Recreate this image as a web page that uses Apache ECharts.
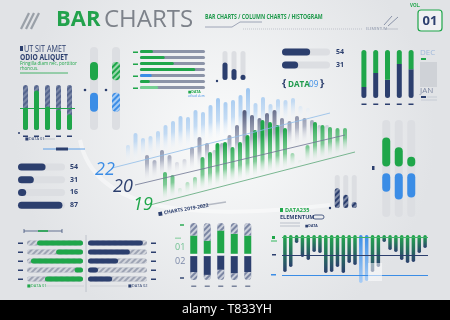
<!DOCTYPE html>
<html><head><meta charset="utf-8">
<script src="https://cdn.jsdelivr.net/npm/echarts@6/dist/echarts.min.js"></script>
<style>html,body{margin:0;padding:0;background:#eceef0}#c{width:450px;height:320px}</style>
</head><body><div id="c"></div>
<script>
// ---------- DATA ----------
const aCats = ['01','02','03','04','05'];
const aTrack = [100,100,100,100,100];
const aGreen = [50,88,52,45,35];
const aRef = [49];

const bCats = ['01','02'];
const bBlueLow = [22,22], bBlueHigh = [45,45];
const bGreenLow = [60,60], bGreenHigh = [82,82];

const cCats = ['1','2','3','4','5','6','7'];
const cVals = [20,38,52,85,18,15,28];

const dCats = ['1','2','3'];
const dVals = [60,38,18];

const eVals = [54,31];
const fVals = [54,31,16,87];

const gCats = ['1','2','3','4','5'];
const gNavy = [23,52,38,71,60];
const gGreen = [77,48,62,29,40];
const gLabels = ['DEC','JAN'];

const hCats = ['1','2','3'];
const hBlueLow = [26,18,20], hBlueHigh = [45,45,45];
const hGreenLow = [52,52,52], hGreenHigh = [82,72,62];

const iCats = ['1','2','3'];
const iVals = [60,40,18];

const jVals = [37,32,8,22,25,17,18,38,37,32,38,28,30,48,46,37,32,7,15,17,25,28,27,18,13];
const jRefs = [2,20,40];

const kCats = ['1','2','3','4','5'];
const kTrack = [100,100,100,100,100];
const kGreen = [82,48,93,15,68];
const kNavy = [93,71,51,17,41];

const lCats = ['1','2','3','4','5'];
const lHatchBottom = [14,9,18,12,14];
const lNavy = [28,33,25,30,28];
const lGap = [4,4,4,4,4];
const lGreen = [32,23,40,35,32];
const lHatchTop = [22,31,13,19,22];

const mBlue  = [65,77,72,74,79,85,89,94,93,100,98,105,112,108,110,115,122,107,113,106,111,110,112,104,102,100];
const mGray  = [55,50,60,55,48,51,63,73,67,60,67,75,85,100,95,92,97,100,92,89,94,92,90,85,85];
const mGreen = [38,35,22,28,33,53,58,67,68,63,68,75,80,90,88,85,82,57,50,65,88,85,83,82,82];
const mYears = ['22','20','19'];

// ---------- STYLE ----------
const GREEN='#1fa64a', NAVY='#2c3f6e', BLUE='#3b8de6', TRACK='#dcdee2', CLEAR='rgba(0,0,0,0)';
const FONT='"Open Sans", "DejaVu Sans", sans-serif';
const G=[],X=[],Y=[],S=[],GR=[];
function grid(l,t,w,h,xa,ya){const i=G.length;G.push({left:l,top:t,width:w,height:h});
  X.push(Object.assign({gridIndex:i,show:false},xa));Y.push(Object.assign({gridIndex:i,show:false},ya));return i;}
function bar(i,data,o){S.push(Object.assign({type:'bar',xAxisIndex:i,yAxisIndex:i,data:data,silent:true,animation:false},o));}
const cat=(d,o)=>Object.assign({type:'category',data:d},o||{});
const val=(max,o)=>Object.assign({type:'value',min:0,max:max},o||{});
const hatch=(c)=>({symbol:'rect',symbolSize:1,dashArrayX:[1,0],dashArrayY:[1.5,2],rotation:-Math.PI/4,color:c});
const dash=(c,m)=>({show:true,axisLine:{show:false},axisTick:{show:false},splitLine:{show:false},
  axisLabel:{formatter:()=> '▬',fontSize:5,color:c,margin:m||2}});
const tick=(c,m)=>({show:true,axisLine:{show:false},axisTick:{show:false},splitLine:{show:false},
  axisLabel:{fontSize:7,fontWeight:'bold',color:c,margin:m||6,fontFamily:FONT}});
function txt(x,y,s,st,ex){GR.push(Object.assign({type:'text',x:x,y:y,z:50,silent:true,
  style:Object.assign({text:s,fill:NAVY,fontSize:6,fontFamily:FONT,verticalAlign:'middle'},st)},ex||{}));}
function ln(x1,y1,x2,y2,c,w,ex){GR.push(Object.assign({type:'line',z:40,silent:true,shape:{x1,y1,x2,y2},style:{stroke:c,lineWidth:w||1}},ex||{}));}
function rc(x,y,w,h,c,r,ex){GR.push(Object.assign({type:'rect',z:1,silent:true,shape:{x,y,width:w,height:h,r:r||0},style:{fill:c}},ex||{}));}
function dot(x,y,r,c){GR.push({type:'circle',z:40,silent:true,shape:{cx:x,cy:y,r:r},style:{fill:c}});}
const vgrad=(a,b)=>({type:'linear',x:0,y:0,x2:0,y2:1,colorStops:[{offset:0,color:a},{offset:1,color:b}]});
function slant(c0,c1,x1,y1,x2,y2,F){const m=(y2-y1)/(x2-x1),n=Math.hypot(m,1),nx=-m/n,ny=1/n;
  return {type:'linear',global:true,x:x1-F*nx,y:y1-F*ny,x2:x1,y2:y1,
    colorStops:[{offset:0,color:c0},{offset:0.6,color:c1},{offset:1,color:'rgba(255,255,255,0)'}]};}

// ---------- BACKGROUND ----------
rc(0,0,450,300,{type:'radial',x:0.5,y:0.45,r:0.7,colorStops:[{offset:0,color:'#fafbfb'},{offset:1,color:'#e1e3e6'}]},0,{z:-100});
GR.push({type:'bezierCurve',z:-50,silent:true,shape:{x1:80,y1:140,x2:330,y2:205,cpx1:95,cpy1:215,cpx2:200,cpy2:220},style:{stroke:'rgba(255,255,255,0.45)',lineWidth:4,fill:null}});
rc(0,300,450,20,'#000',0,{z:60});
txt(182,309,'alamy - T833YH',{fill:'#fff',fontSize:12.5},{z:61});

// ---------- HEADER ----------
[[21,29],[26,29],[31,29]].forEach(p=>ln(p[0],p[1],p[0]+8,p[1]-16,'#9aa0a8',2.2));
txt(56,20,'BAR',{fill:'#22a24c',fontSize:22,fontWeight:'bold'});
txt(104,20,'CHARTS',{fill:'#7d828a',fontSize:24,fontWeight:'normal'});
txt(205,17,'BAR CHARTS / COLUMN CHARTS / HISTOGRAM',{fill:'#1f9a4c',fontSize:7,fontWeight:'bold'},{scaleX:0.74});
GR.push({type:'polyline',z:40,silent:true,shape:{points:[[205,27],[232,27],[240,22],[262,22]]},style:{stroke:'#8a93a8',lineWidth:0.8,fill:null}});
ln(243,29,362,29,'#a4aab6',0.6,{style:{stroke:'#a4aab6',lineWidth:0.6,lineDash:[1,1]}});
txt(366,29,'ELEMENTUM',{fill:'#8a93a8',fontSize:3.5});
ln(385,29,398,29,'#a4aab6',0.6);
ln(384,25,392,16,'#8a93a8',1); ln(388,26,398,17,'#8a93a8',1);
txt(410,6,'VOL.',{fill:GREEN,fontSize:4.5,fontWeight:'bold'});
GR.push({type:'rect',z:40,silent:true,shape:{x:418,y:10,width:24,height:21,r:3},style:{fill:'rgba(255,255,255,0.5)',stroke:GREEN,lineWidth:1.2}});
txt(430,21,'01',{fill:NAVY,fontSize:13,fontWeight:'bold',align:'center'});

// ---------- TOP-LEFT TEXT ----------
rc(20,46,3,5,NAVY,0,{z:40});
txt(24,49,'UT SIT AMET',{fill:NAVY,fontSize:9},{scaleX:0.8});
txt(20,57,'ODIO ALIQUET',{fill:NAVY,fontSize:9,fontWeight:'bold'},{scaleX:0.74});
txt(20,64,'Fringilla diam nec, porttitor',{fill:GREEN,fontSize:4.5});
txt(20,68.5,'rhoncus.',{fill:GREEN,fontSize:4.5});
ln(20,73,68,73,GREEN,0.8);

// ---------- A: five vertical bars ----------
let gi=grid(20,85,55,45,cat(aCats,dash(NAVY,3)),val(100));
bar(gi,aTrack,{barWidth:5,itemStyle:{color:'#56668e',borderRadius:2.5,decal:hatch('rgba(255,255,255,0.22)')}});
bar(gi,aGreen,{barWidth:5,barGap:'-100%',itemStyle:{color:GREEN,borderRadius:2.5},
  markLine:{silent:true,symbol:'none',label:{show:false},lineStyle:{color:GREEN,width:1,type:'solid'},data:aRef.map(v=>({yAxis:v}))}});
dot(19,133,1,NAVY);
txt(25,139,'■DATA 01',{fill:NAVY,fontSize:4});
ln(43,139,55,139,'#aab1c0',0.6);
ln(43,149,85,149,BLUE,0.8); rc(56,147.5,12,3,NAVY,0,{z:41});

// ---------- B: vertical capsules ----------
gi=grid(83,47,44,83,cat(bCats),val(100));
const bH=(v,i,c)=>(i===1?{value:v,itemStyle:{color:c,decal:hatch('rgba(255,255,255,0.55)')}}:v);
bar(gi,bBlueLow,{stack:'b',barWidth:8,itemStyle:{color:CLEAR},showBackground:true,backgroundStyle:{color:TRACK,borderRadius:4}});
bar(gi,bBlueHigh.map((h,i)=>bH(h-bBlueLow[i],i,BLUE)),{stack:'b',barWidth:8,itemStyle:{color:BLUE,borderRadius:4}});
bar(gi,bGreenLow.map((l,i)=>l-bBlueHigh[i]),{stack:'b',barWidth:8,itemStyle:{color:CLEAR}});
bar(gi,bGreenHigh.map((h,i)=>bH(h-bGreenLow[i],i,GREEN)),{stack:'b',barWidth:8,itemStyle:{color:GREEN,borderRadius:4}});
dot(85,90,1.3,NAVY); dot(106,90,1.3,NAVY);

// ---------- C: horizontal bars ----------
gi=grid(140,48.5,65,42,val(100),cat(cCats,Object.assign({inverse:true},dash(GREEN,2))));
bar(gi,cVals.map((v,i)=>i===4?{value:v,itemStyle:{color:BLUE}}:(i===6?{value:v,itemStyle:{color:'#74cf92'}}:v)),
  {barWidth:3,itemStyle:{color:GREEN,borderRadius:1.5},showBackground:true,backgroundStyle:{color:'#8c94a8',borderRadius:1.5}});
txt(188,92,'■DATA',{fill:GREEN,fontSize:3.5,fontWeight:'bold'});
txt(188,96,'ut/sed elem',{fill:BLUE,fontSize:3});

// ---------- D: small vertical bars ----------
gi=grid(220.5,51,27,29,cat(dCats),val(100));
bar(gi,dVals,{barWidth:5,itemStyle:{color:NAVY,borderRadius:2.5},showBackground:true,backgroundStyle:{color:TRACK,borderRadius:2.5}});
dot(217,81,1.2,NAVY);

// ---------- E: top-right horizontal bars ----------
gi=grid(282,45.5,48,26,val(92),cat(eVals.map(String),Object.assign({inverse:true,position:'right'},tick(NAVY,6))));
bar(gi,eVals,{barWidth:7,itemStyle:{color:NAVY,borderRadius:3.5},showBackground:true,backgroundStyle:{color:TRACK,borderRadius:3.5}});

// DATA09
txt(282,84,'{',{fill:NAVY,fontSize:11,fontWeight:'bold'});
txt(288,84,'DATA',{fill:'#1f9a4c',fontSize:9,fontWeight:'bold'},{scaleX:0.9});
txt(309,84,'09',{fill:BLUE,fontSize:9},{scaleX:0.9});
txt(320,84,'}',{fill:NAVY,fontSize:11,fontWeight:'bold'});

// ---------- F: left horizontal bars ----------
gi=grid(18,160.5,47,51,val(92),cat(fVals.map(String),Object.assign({inverse:true,position:'right'},tick(NAVY,5))));
bar(gi,fVals,{barWidth:7,itemStyle:{color:NAVY,borderRadius:3.5},showBackground:true,backgroundStyle:{color:TRACK,borderRadius:3.5}});

// ---------- G: stacked capsules ----------
gi=grid(358,50,59,48,cat(gCats,dash(NAVY,3)),val(100));
bar(gi,gNavy,{stack:'g',barWidth:5,itemStyle:{color:NAVY,borderRadius:[0,0,2.5,2.5]}});
bar(gi,gGreen,{stack:'g',barWidth:5,itemStyle:{color:GREEN,borderRadius:[2.5,2.5,0,0]}});
txt(420,53,gLabels[0],{fill:'#9fb8dc',fontSize:8});
rc(421,58,5,2,GREEN,0,{z:40});
rc(420,62,17,25,'#cfd2d7');
txt(420,91,gLabels[1],{fill:'#7c86a0',fontSize:8});
rc(421,96,5,2,NAVY,0,{z:40}); ln(427,97,437,97,'#aab1c0',0.5); ln(421,100,437,100,'#aab1c0',0.5);

// ---------- H: right capsules ----------
gi=grid(380,120,37.5,97,cat(hCats),val(100));
bar(gi,hBlueLow,{stack:'h',barWidth:8,itemStyle:{color:CLEAR},showBackground:true,backgroundStyle:{color:TRACK,borderRadius:4}});
bar(gi,hBlueHigh.map((h,i)=>h-hBlueLow[i]),{stack:'h',barWidth:8,itemStyle:{color:BLUE,borderRadius:4}});
bar(gi,hGreenLow.map((l,i)=>l-hBlueHigh[i]),{stack:'h',barWidth:8,itemStyle:{color:CLEAR}});
bar(gi,hGreenHigh.map((h,i)=>h-hGreenLow[i]),{stack:'h',barWidth:8,itemStyle:{color:GREEN,borderRadius:4}});
rc(372,166,2.5,4,NAVY,0,{z:40});

// ---------- I: small hatched bars ----------
gi=grid(333,175,25.5,33,cat(iCats),val(100));
bar(gi,iVals,{barWidth:5,itemStyle:{color:NAVY,borderRadius:2.5,decal:hatch('rgba(255,255,255,0.4)')},showBackground:true,backgroundStyle:{color:TRACK,borderRadius:2.5}});
dot(330,208,1.2,NAVY);

// ---------- DATA235 ----------
rc(280,208,3,4,GREEN,0,{z:40});
txt(285,210.5,'DATA235',{fill:GREEN,fontSize:5.5,fontWeight:'bold'});
txt(280,217,'ELEMENTUM',{fill:NAVY,fontSize:5.5,fontWeight:'bold'});
GR.push({type:'rect',z:40,silent:true,shape:{x:313,y:215,width:11,height:4,r:2},style:{fill:'none',stroke:NAVY,lineWidth:0.8}});
ln(280,223,300,223,'#9aa2b3',0.6); ln(280,226,300,226,'#9aa2b3',0.6);
txt(305,225.5,'■DATA',{fill:NAVY,fontSize:3.5,fontWeight:'bold'});

// ---------- J: diverging bars ----------
gi=grid(282,235,146,50,cat(jVals.map((v,i)=>String(i+1))),val(50,{inverse:true}));
bar(gi,jVals.map((v,i)=>(i===13||i===14)?{value:v,itemStyle:{color:vgrad('#3b8de6','#a9cdf5')}}:v),
  {barWidth:3.5,itemStyle:{color:vgrad('#22a84c','#2b3f6e'),borderRadius:1.75},
   markLine:{silent:true,symbol:'none',label:{show:false},data:[
     {yAxis:jRefs[0],lineStyle:{color:'#3fb466',width:1,type:'solid'}},
     {yAxis:jRefs[1],lineStyle:{color:NAVY,width:1,type:'solid'}},
     {yAxis:jRefs[2],lineStyle:{color:BLUE,width:1,type:'solid'}}]}});
rc(272,236,3,3,GREEN,0,{z:40}); rc(271,240,6,2,'#8fd3a6',0,{z:40});
rc(272,254,4,1.5,NAVY,0,{z:40}); rc(271,274,5,1.5,BLUE,0,{z:40});
rc(368,263,14,18,'rgba(255,255,255,0.55)',0,{z:30});

// ---------- K: twin horizontal bars ----------
ln(24,231,62,231,NAVY,0.7); ln(24,229,24,233,NAVY,0.7); ln(62,229,62,233,NAVY,0.7); ln(38,231,48,231,GREEN,1.6);
gi=grid(27,238.5,56,45,val(100,{inverse:true}),cat(kCats,Object.assign({inverse:true},dash(NAVY,4))));
bar(gi,kTrack,{barWidth:5,itemStyle:{color:'#9ea4b4',borderRadius:2.5,decal:hatch('rgba(255,255,255,0.55)')}});
bar(gi,kGreen,{barWidth:5,barGap:'-100%',itemStyle:{color:GREEN,borderRadius:2.5}});
gi=grid(88,238.5,59,45,val(100),cat(kCats,Object.assign({inverse:true,position:'right'},dash(NAVY,4))));
bar(gi,kTrack,{barWidth:5,itemStyle:{color:'#9ea4b4',borderRadius:2.5,decal:hatch('rgba(255,255,255,0.55)')}});
bar(gi,kNavy,{barWidth:5,barGap:'-100%',itemStyle:{color:NAVY,borderRadius:2.5}});
ln(86,235,86,292,'#b5bac4',0.8);
txt(27,286,'■DATA 01',{fill:GREEN,fontSize:4});
ln(45,286,84,286,'#c3c7cf',0.6); ln(90,286,127,286,'#c3c7cf',0.6);
txt(128,286,'■DATA 02',{fill:NAVY,fontSize:4});

// ---------- L: stacked capsules ----------
gi=grid(187,223,67.5,57,cat(lCats,dash('#7a849c',3)),val(100));
const lH={color:'#7b86a3',decal:hatch('rgba(255,255,255,0.6)')};
bar(gi,lHatchBottom,{stack:'l',barWidth:7,itemStyle:Object.assign({borderRadius:[0,0,3.5,3.5]},lH)});
bar(gi,lNavy,{stack:'l',barWidth:7,itemStyle:{color:NAVY}});
bar(gi,lGap,{stack:'l',barWidth:7,itemStyle:{color:'#f2f3f5'}});
bar(gi,lGreen,{stack:'l',barWidth:7,itemStyle:{color:GREEN}});
bar(gi,lHatchTop,{stack:'l',barWidth:7,itemStyle:Object.assign({borderRadius:[3.5,3.5,0,0]},lH)});
ln(180,225,184,225,GREEN,1.4); ln(180,278,184,278,NAVY,1.4);
txt(175,238,'▪▪▪',{fill:'#8fd0a5',fontSize:3});
txt(175,247,'01',{fill:'#6fc090',fontSize:9});
txt(175,261,'02',{fill:'#7b88a8',fontSize:9});
txt(158,214,'■ CHARTS 2019-2022',{fill:NAVY,fontSize:5,fontWeight:'bold'},{rotation:0.17});
ln(200,206,226,202,'#b5bac4',1.5);

// ---------- M: central histogram ----------
const LB=[112,168,330,113], LG=[135,185,345,135], LN=[150,205,355,152];
gi=grid(124.25,80,195,130,cat(mBlue.map((v,i)=>String(i))),val(130));
bar(gi,mBlue,{barWidth:4,itemStyle:{borderRadius:[2,2,0,0],color:slant('rgba(140,188,238,0.95)','rgba(175,208,242,0.7)',LB[0],LB[1],LB[2],LB[3],50)}});
gi=grid(143.25,80,187.5,130,cat(mGray.map((v,i)=>String(i))),val(130));
bar(gi,mGray,{barWidth:4,itemStyle:{borderRadius:[2,2,0,0],color:slant('rgba(78,86,120,0.95)','rgba(140,147,172,0.65)',LG[0],LG[1],LG[2],LG[3],45)}});
gi=grid(161.25,80,187.5,130,cat(mGreen.map((v,i)=>String(i))),val(130));
bar(gi,mGreen,{barWidth:4,itemStyle:{borderRadius:[2,2,0,0],color:slant('rgba(31,166,74,1)','rgba(80,186,112,0.7)',LN[0],LN[1],LN[2],LN[3],40)}});
ln(LB[0],LB[1],LB[2],LB[3],'#8fbce9',0.8);
ln(LG[0],LG[1],LG[2],LG[3],'#6d7592',0.8);
ln(LN[0],LN[1],LN[2],LN[3],'#5aa777',0.8);
txt(95,170,mYears[0],{fill:BLUE,fontSize:18,fontStyle:'italic'},{z:60});
txt(113,187,mYears[1],{fill:NAVY,fontSize:18,fontStyle:'italic'},{z:60});
txt(133,205,mYears[2],{fill:GREEN,fontSize:18,fontStyle:'italic'},{z:60});

const chart = echarts.init(document.getElementById('c'),null,{renderer:'canvas'});
chart.setOption({backgroundColor:'#eceef0',animation:false,grid:G,xAxis:X,yAxis:Y,series:S,graphic:{elements:GR}});
</script></body></html>
